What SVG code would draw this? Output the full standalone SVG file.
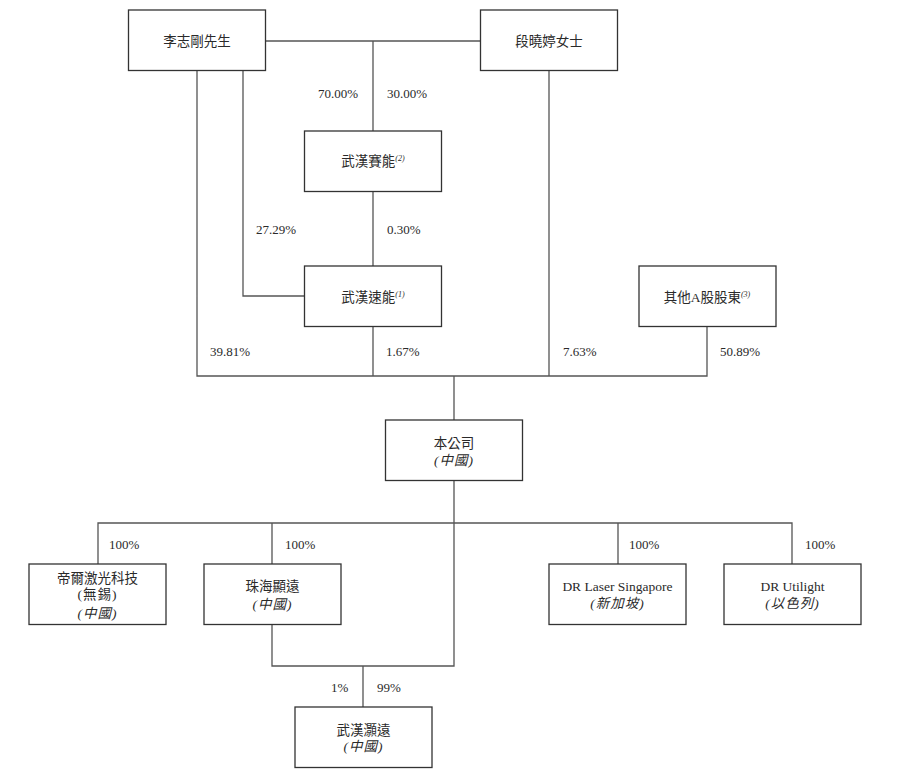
<svg xmlns="http://www.w3.org/2000/svg" width="911" height="775" viewBox="0 0 911 775">
<style>
.box{fill:#fff;stroke:#333;stroke-width:1.3}
.ln{fill:none;stroke:#555;stroke-width:1.3}
.t{font-family:"Liberation Serif","Noto Sans CJK TC",serif;font-size:13.5px;fill:#2a2a2a;text-anchor:middle}
.p{font-family:"Liberation Serif","Noto Sans CJK TC",serif;font-size:13px;fill:#2a2a2a}
.i{font-style:italic;letter-spacing:1px}
.s{font-size:8px;font-style:italic}
</style>
<rect width="911" height="775" fill="#fff"/>
<g id="connectors">
<path class="ln" d="M266 41H480M373 41V131M373 192V266M243 71V296H304M197 71V376H707V327M549 71V376M373 327V376M454 376V420M454 481V666H272V625M98 564V523H792V564M272 523V564M618 523V564M363 666V707"/>
</g>
<g id="labels">
<text class="p" x="318" y="98">70.00%</text>
<text class="p" x="387" y="98">30.00%</text>
<text class="p" x="256" y="234">27.29%</text>
<text class="p" x="387" y="234">0.30%</text>
<text class="p" x="210" y="356">39.81%</text>
<text class="p" x="386" y="356">1.67%</text>
<text class="p" x="563" y="356">7.63%</text>
<text class="p" x="720" y="356">50.89%</text>
<text class="p" x="109" y="549">100%</text>
<text class="p" x="285" y="549">100%</text>
<text class="p" x="629" y="549">100%</text>
<text class="p" x="805" y="549">100%</text>
<text class="p" x="331" y="692">1%</text>
<text class="p" x="377" y="692">99%</text>
</g>
<g id="n-li">
<rect class="box" x="128.5" y="10" width="137" height="60.5"/>
<text class="t" x="197" y="46">李志剛先生</text>
</g>
<g id="n-duan">
<rect class="box" x="480.5" y="10" width="137" height="60.5"/>
<text class="t" x="549" y="46">段曉婷女士</text>
</g>
<g id="n-saineng">
<rect class="box" x="304.5" y="131" width="137" height="60.5"/>
<text class="t" x="373" y="166">武漢賽能<tspan class="s" dy="-5">(2)</tspan></text>
</g>
<g id="n-suneng">
<rect class="box" x="304.5" y="266" width="137" height="60.5"/>
<text class="t" x="373" y="302">武漢速能<tspan class="s" dy="-5">(1)</tspan></text>
</g>
<g id="n-other">
<rect class="box" x="639" y="266" width="137" height="60.5"/>
<text class="t" x="707" y="302">其他A股股東<tspan class="s" dy="-5">(3)</tspan></text>
</g>
<g id="n-company">
<rect class="box" x="385.5" y="420" width="137" height="60.5"/>
<text class="t" x="454" y="448">本公司</text>
<text class="t i" x="454" y="465">(中國)</text>
</g>
<g id="n-dier">
<rect class="box" x="29" y="564" width="137" height="60.5"/>
<text class="t" x="97.5" y="583">帝爾激光科技</text>
<text class="t" x="97.5" y="599" style="letter-spacing:1px">(無錫)</text>
<text class="t i" x="97.5" y="618">(中國)</text>
</g>
<g id="n-zhuhai">
<rect class="box" x="204" y="564" width="137" height="60.5"/>
<text class="t" x="272.5" y="591">珠海顯遠</text>
<text class="t i" x="272.5" y="609">(中國)</text>
</g>
<g id="n-sg">
<rect class="box" x="549" y="564" width="137" height="60.5"/>
<text class="t" x="617.5" y="591">DR Laser Singapore</text>
<text class="t i" x="617.5" y="608">(新加坡)</text>
</g>
<g id="n-il">
<rect class="box" x="724" y="564" width="137" height="60.5"/>
<text class="t" x="792.5" y="591">DR Utilight</text>
<text class="t i" x="792.5" y="608">(以色列)</text>
</g>
<g id="n-wuhan">
<rect class="box" x="295" y="707" width="137" height="60.5"/>
<text class="t" x="363.5" y="735">武漢灝遠</text>
<text class="t i" x="363.5" y="751">(中國)</text>
</g>
</svg>
